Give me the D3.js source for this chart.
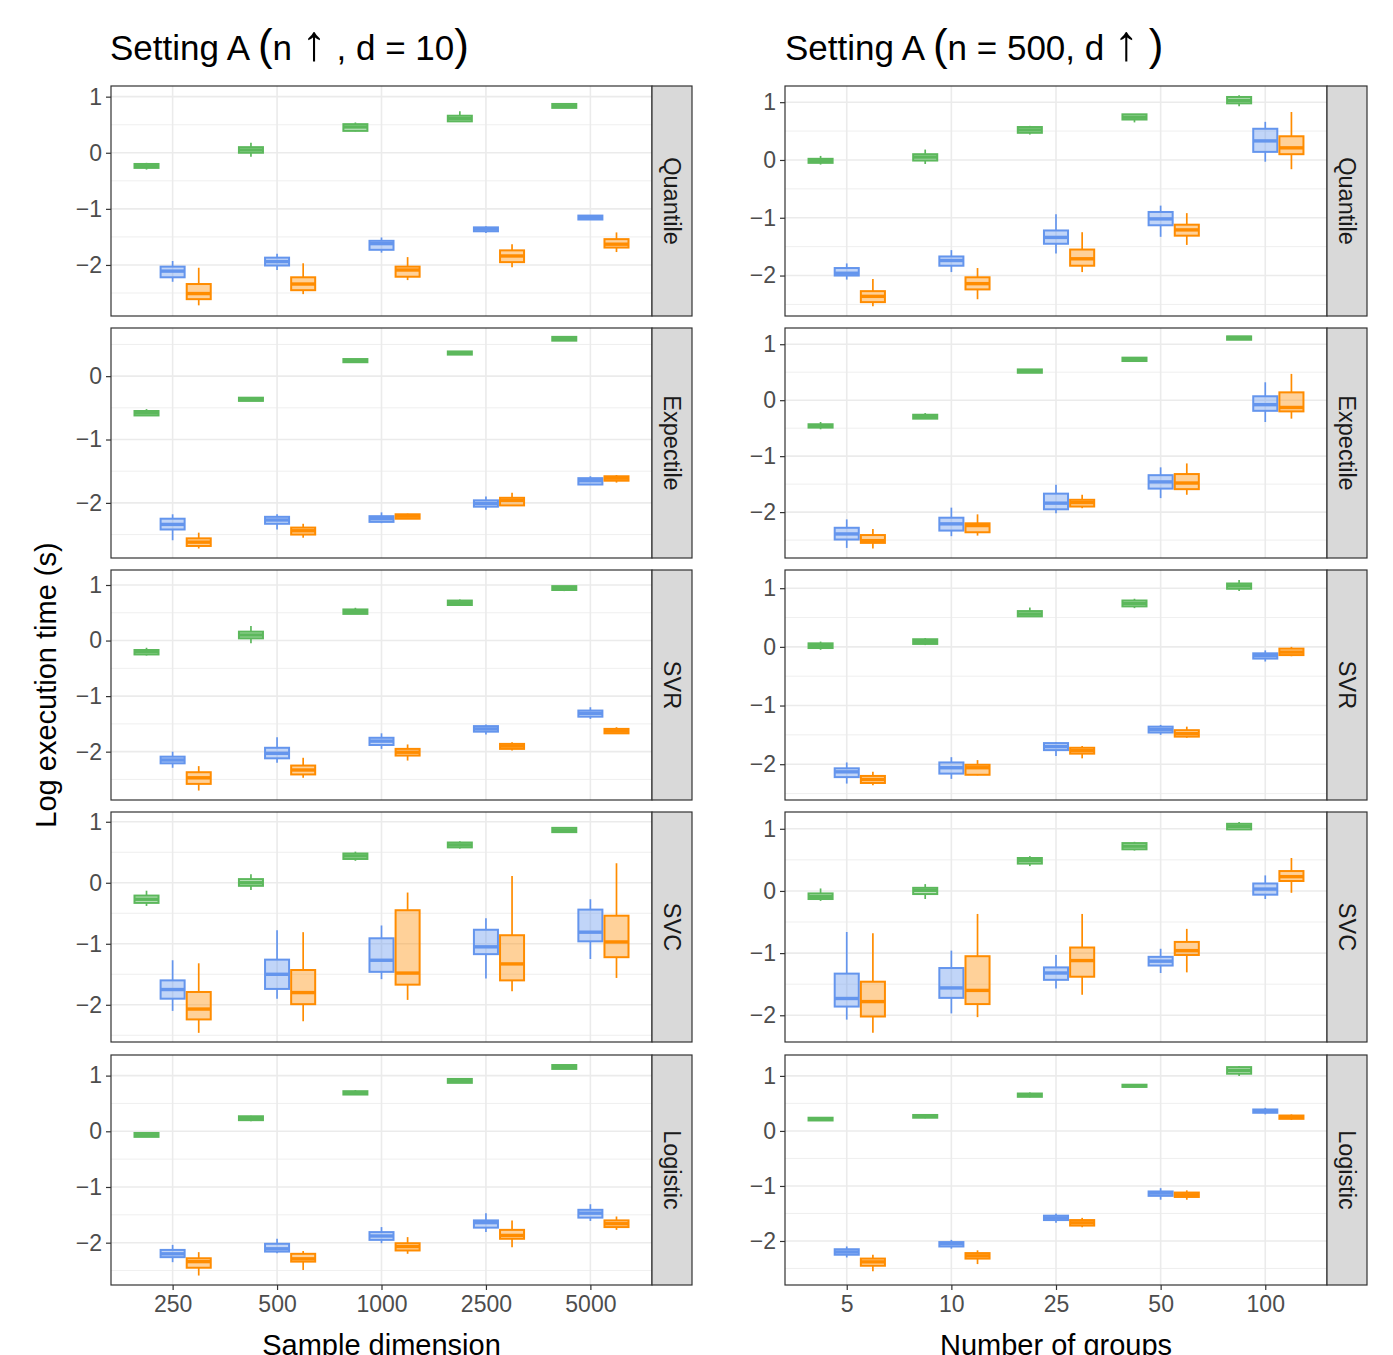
<!DOCTYPE html>
<html><head><meta charset="utf-8">
<script src="https://cdn.jsdelivr.net/npm/d3@7"></script>
<style>
body{margin:0;background:#fff}
svg{display:block}
text{font-family:"Liberation Sans",Arial,Helvetica,sans-serif}
</style>
</head><body>
<svg id="chart" width="1393" height="1355"></svg>
<script>
// ---------------- DATA ----------------
const catsN = ["250","500","1000","2500","5000"];
const catsG = ["5","10","25","50","100"];
const facetLabels = ["Quantile","Expectile","SVR","SVC","Logistic"];
const methods = ["m1","m2","m3"];
const yTicks = [-2,-1,0,1];
const yDomainsN = [[-2.91,1.19],[-2.87,0.76],[-2.87,1.27],[-2.61,1.16],[-2.76,1.37]];
const yDomainsG = [[-2.70,1.28],[-2.82,1.29],[-2.61,1.31],[-2.43,1.27],[-2.80,1.38]];
// each category: [m1, m2, m3], each stat = [lower, q1, median, q3, upper]
const nQuantile = [
  [[-0.30,-0.27,-0.24,-0.20,-0.18],[-2.30,-2.22,-2.11,-2.03,-1.93],[-2.72,-2.61,-2.51,-2.34,-2.05]],
  [[-0.07,0.00,0.05,0.10,0.18],[-2.09,-2.01,-1.94,-1.87,-1.80],[-2.52,-2.45,-2.34,-2.22,-1.97]],
  [[0.38,0.39,0.46,0.51,0.54],[-1.78,-1.73,-1.62,-1.57,-1.51],[-2.27,-2.21,-2.09,-2.03,-1.86]],
  [[0.56,0.56,0.61,0.66,0.74],[-1.43,-1.40,-1.36,-1.33,-1.31],[-2.04,-1.95,-1.84,-1.74,-1.63]],
  [[0.80,0.80,0.83,0.87,0.87],[-1.19,-1.19,-1.15,-1.12,-1.12],[-1.77,-1.69,-1.63,-1.54,-1.42]]
];
const nExpectile = [
  [[-0.62,-0.62,-0.58,-0.55,-0.52],[-2.59,-2.42,-2.34,-2.25,-2.18],[-2.72,-2.68,-2.62,-2.56,-2.47]],
  [[-0.39,-0.39,-0.37,-0.34,-0.34],[-2.42,-2.33,-2.27,-2.22,-2.18],[-2.55,-2.50,-2.44,-2.39,-2.33]],
  [[0.22,0.22,0.24,0.27,0.27],[-2.32,-2.30,-2.25,-2.21,-2.15],[-2.25,-2.25,-2.21,-2.18,-2.17]],
  [[0.34,0.34,0.37,0.39,0.39],[-2.11,-2.06,-2.01,-1.96,-1.90],[-2.04,-2.04,-1.96,-1.92,-1.84]],
  [[0.56,0.56,0.59,0.62,0.62],[-1.71,-1.71,-1.65,-1.61,-1.58],[-1.68,-1.65,-1.61,-1.58,-1.56]]
];
const nSVR = [
  [[-0.27,-0.25,-0.20,-0.17,-0.13],[-2.29,-2.21,-2.15,-2.09,-2.00],[-2.70,-2.58,-2.47,-2.37,-2.26]],
  [[-0.05,0.04,0.10,0.16,0.26],[-2.20,-2.12,-2.03,-1.93,-1.74],[-2.47,-2.41,-2.33,-2.25,-2.11]],
  [[0.48,0.48,0.52,0.56,0.59],[-1.95,-1.88,-1.81,-1.75,-1.67],[-2.16,-2.07,-2.01,-1.95,-1.87]],
  [[0.64,0.64,0.68,0.72,0.74],[-1.69,-1.64,-1.59,-1.54,-1.51],[-1.98,-1.95,-1.90,-1.86,-1.83]],
  [[0.89,0.91,0.95,0.98,0.98],[-1.41,-1.37,-1.31,-1.26,-1.20],[-1.68,-1.67,-1.63,-1.59,-1.56]]
];
const nSVC = [
  [[-0.38,-0.33,-0.27,-0.21,-0.13],[-2.10,-1.90,-1.75,-1.60,-1.27],[-2.46,-2.24,-2.07,-1.79,-1.32]],
  [[-0.12,-0.05,0.00,0.06,0.14],[-1.90,-1.74,-1.50,-1.26,-0.78],[-2.27,-1.99,-1.80,-1.43,-0.81]],
  [[0.36,0.39,0.44,0.48,0.51],[-1.58,-1.46,-1.27,-0.91,-0.70],[-1.92,-1.67,-1.48,-0.45,-0.16]],
  [[0.56,0.58,0.62,0.66,0.68],[-1.57,-1.17,-1.05,-0.77,-0.58],[-1.78,-1.60,-1.33,-0.86,0.11]],
  [[0.83,0.83,0.86,0.90,0.91],[-1.25,-0.96,-0.81,-0.44,-0.27],[-1.56,-1.22,-0.97,-0.54,0.32]]
];
const nLogistic = [
  [[-0.10,-0.10,-0.06,-0.03,-0.03],[-2.35,-2.26,-2.20,-2.13,-2.04],[-2.59,-2.45,-2.34,-2.28,-2.17]],
  [[0.18,0.20,0.23,0.27,0.28],[-2.19,-2.16,-2.11,-2.02,-1.93],[-2.49,-2.34,-2.29,-2.20,-2.15]],
  [[0.66,0.66,0.69,0.72,0.74],[-2.01,-1.95,-1.88,-1.81,-1.72],[-2.20,-2.14,-2.07,-2.01,-1.90]],
  [[0.87,0.87,0.91,0.94,0.94],[-1.81,-1.73,-1.64,-1.60,-1.47],[-2.08,-1.93,-1.87,-1.77,-1.60]],
  [[1.12,1.12,1.16,1.19,1.19],[-1.61,-1.55,-1.47,-1.41,-1.31],[-1.77,-1.72,-1.66,-1.60,-1.53]]
];
const gQuantile = [
  [[-0.08,-0.05,-0.01,0.02,0.07],[-2.07,-2.00,-1.96,-1.87,-1.79],[-2.53,-2.46,-2.36,-2.27,-2.06]],
  [[-0.07,-0.01,0.05,0.10,0.18],[-1.94,-1.83,-1.74,-1.67,-1.56],[-2.41,-2.24,-2.14,-2.03,-1.87]],
  [[0.44,0.47,0.52,0.57,0.59],[-1.62,-1.45,-1.34,-1.22,-0.94],[-1.94,-1.83,-1.71,-1.55,-1.25]],
  [[0.65,0.70,0.74,0.79,0.79],[-1.33,-1.13,-1.02,-0.90,-0.79],[-1.47,-1.31,-1.21,-1.12,-0.92]],
  [[0.93,0.98,1.03,1.09,1.12],[-0.03,0.14,0.33,0.54,0.66],[-0.16,0.10,0.21,0.41,0.83]]
];
const gExpectile = [
  [[-0.52,-0.49,-0.46,-0.43,-0.39],[-2.64,-2.49,-2.39,-2.28,-2.13],[-2.65,-2.55,-2.51,-2.41,-2.30]],
  [[-0.33,-0.33,-0.29,-0.26,-0.23],[-2.43,-2.33,-2.21,-2.10,-1.92],[-2.42,-2.36,-2.24,-2.20,-2.04]],
  [[0.49,0.49,0.52,0.55,0.55],[-2.02,-1.95,-1.84,-1.67,-1.51],[-1.93,-1.90,-1.83,-1.78,-1.69]],
  [[0.70,0.70,0.73,0.76,0.76],[-1.75,-1.58,-1.46,-1.34,-1.20],[-1.69,-1.59,-1.48,-1.32,-1.13]],
  [[1.08,1.08,1.12,1.14,1.14],[-0.39,-0.19,-0.08,0.07,0.32],[-0.33,-0.20,-0.13,0.14,0.47]]
];
const gSVR = [
  [[-0.05,-0.02,0.02,0.06,0.09],[-2.33,-2.22,-2.13,-2.07,-1.97],[-2.36,-2.32,-2.26,-2.20,-2.13]],
  [[0.03,0.05,0.09,0.13,0.15],[-2.25,-2.16,-2.06,-1.97,-1.88],[-2.19,-2.18,-2.06,-2.01,-1.93]],
  [[0.52,0.52,0.56,0.61,0.67],[-1.86,-1.76,-1.70,-1.64,-1.62],[-1.90,-1.82,-1.77,-1.72,-1.69]],
  [[0.66,0.69,0.74,0.79,0.82],[-1.50,-1.46,-1.41,-1.36,-1.33],[-1.55,-1.53,-1.48,-1.42,-1.36]],
  [[0.95,0.99,1.04,1.08,1.14],[-0.25,-0.20,-0.15,-0.11,-0.06],[-0.16,-0.14,-0.09,-0.03,0.00]]
];
const gSVC = [
  [[-0.16,-0.13,-0.09,-0.04,0.04],[-2.07,-1.86,-1.73,-1.33,-0.66],[-2.28,-2.02,-1.78,-1.46,-0.68]],
  [[-0.13,-0.05,0.01,0.05,0.11],[-1.97,-1.72,-1.56,-1.24,-0.96],[-2.03,-1.82,-1.60,-1.05,-0.37]],
  [[0.40,0.44,0.49,0.53,0.56],[-1.57,-1.43,-1.32,-1.23,-1.03],[-1.67,-1.38,-1.12,-0.91,-0.37]],
  [[0.65,0.67,0.72,0.77,0.79],[-1.32,-1.20,-1.13,-1.06,-0.93],[-1.31,-1.03,-0.96,-0.82,-0.61]],
  [[0.99,0.99,1.04,1.08,1.11],[-0.13,-0.06,0.03,0.12,0.25],[-0.03,0.16,0.23,0.32,0.53]]
];
const gLogistic = [
  [[0.18,0.19,0.22,0.24,0.25],[-2.30,-2.25,-2.20,-2.15,-2.10],[-2.55,-2.45,-2.38,-2.32,-2.25]],
  [[0.23,0.24,0.27,0.29,0.30],[-2.14,-2.10,-2.05,-2.02,-1.98],[-2.42,-2.32,-2.27,-2.22,-2.17]],
  [[0.61,0.62,0.65,0.68,0.70],[-1.67,-1.62,-1.58,-1.54,-1.50],[-1.75,-1.72,-1.67,-1.62,-1.58]],
  [[0.79,0.80,0.82,0.84,0.85],[-1.25,-1.18,-1.13,-1.10,-1.04],[-1.25,-1.20,-1.16,-1.12,-1.08]],
  [[1.00,1.04,1.10,1.16,1.18],[0.30,0.33,0.36,0.39,0.42],[0.20,0.22,0.25,0.28,0.30]]
];

// ---------------- STYLE / LAYOUT ----------------
const colors = {m1:"#5CB85C", m2:"#6495ED", m3:"#FF8C00"};
const colX = [[111,652],[785,1327]];
const rowY = [[86,316],[328,558],[570,800],[812,1042],[1055,1285]];
const stripW = 40;
const columns = [
  {cats: catsN, domains: yDomainsN, panels: [nQuantile,nExpectile,nSVR,nSVC,nLogistic], xTitle: "Sample dimension"},
  {cats: catsG, domains: yDomainsG, panels: [gQuantile,gExpectile,gSVR,gSVC,gLogistic], xTitle: "Number of groups"}
];
const fmt = d => d < 0 ? "\u2212" + Math.abs(d) : String(d);

const svg = d3.select("#chart");
svg.append("rect").attr("width",1393).attr("height",1355).attr("fill","#fff");

columns.forEach((col, c) => {
  const [x0, x1] = colX[c];
  const x = d3.scalePoint().domain(col.cats).range([x0, x1]).padding(0.59);
  const dodge = x.step() * 0.75 / 3;
  const bw = dodge * 0.92;

  col.panels.forEach((pdata, r) => {
    const [y0, y1] = rowY[r];
    const dom = col.domains[r];
    const y = d3.scaleLinear().domain(dom).range([y1, y0]);
    const g = svg.append("g");

    g.append("rect").attr("x",x0).attr("y",y0).attr("width",x1-x0).attr("height",y1-y0).attr("fill","#fff");
    const minor = d3.range(Math.ceil(dom[0]*2)/2, dom[1], 0.5).filter(v => Math.abs(v - Math.round(v)) > 0.1);
    g.selectAll(".minor").data(minor).join("line")
      .attr("x1",x0).attr("x2",x1).attr("y1",d=>y(d)).attr("y2",d=>y(d))
      .attr("stroke","#ebebeb").attr("stroke-width",0.8);
    const major = yTicks.filter(v => v >= dom[0] && v <= dom[1]);
    g.selectAll(".major").data(major).join("line")
      .attr("x1",x0).attr("x2",x1).attr("y1",d=>y(d)).attr("y2",d=>y(d))
      .attr("stroke","#ebebeb").attr("stroke-width",1.6);
    g.selectAll(".vmajor").data(col.cats).join("line")
      .attr("x1",d=>x(d)).attr("x2",d=>x(d)).attr("y1",y0).attr("y2",y1)
      .attr("stroke","#ebebeb").attr("stroke-width",1.6);

    const recs = [];
    pdata.forEach((catBoxes, ci) => catBoxes.forEach((s, mi) => {
      recs.push({cat: col.cats[ci], m: methods[mi], mi, lo:s[0], q1:s[1], med:s[2], q3:s[3], hi:s[4]});
    }));
    const bx = d => x(d.cat) + (d.mi - 1) * dodge;
    const bg = g.selectAll(".box").data(recs).join("g");
    bg.append("line").attr("x1",bx).attr("x2",bx).attr("y1",d=>y(d.hi)).attr("y2",d=>y(d.q3))
      .attr("stroke",d=>colors[d.m]).attr("stroke-width",1.7);
    bg.append("line").attr("x1",bx).attr("x2",bx).attr("y1",d=>y(d.q1)).attr("y2",d=>y(d.lo))
      .attr("stroke",d=>colors[d.m]).attr("stroke-width",1.7);
    bg.append("rect").attr("x",d=>bx(d)-bw/2).attr("y",d=>y(d.q3)).attr("width",bw)
      .attr("height",d=>Math.max(0.5, y(d.q1)-y(d.q3)))
      .attr("fill",d=>colors[d.m]).attr("fill-opacity",0.4)
      .attr("stroke",d=>colors[d.m]).attr("stroke-width",2);
    bg.append("line").attr("x1",d=>bx(d)-bw/2).attr("x2",d=>bx(d)+bw/2)
      .attr("y1",d=>y(d.med)).attr("y2",d=>y(d.med))
      .attr("stroke",d=>colors[d.m]).attr("stroke-width",3.4);

    g.append("rect").attr("x",x0).attr("y",y0).attr("width",x1-x0).attr("height",y1-y0)
      .attr("fill","none").attr("stroke","#333333").attr("stroke-width",1.2);
    g.append("rect").attr("x",x1).attr("y",y0).attr("width",stripW).attr("height",y1-y0)
      .attr("fill","#d9d9d9").attr("stroke","#333333").attr("stroke-width",1.2);
    g.append("text").attr("transform",`translate(${x1+stripW/2},${(y0+y1)/2}) rotate(90)`)
      .attr("text-anchor","middle").attr("dy","0.35em")
      .attr("font-size",23.5).attr("fill","#1a1a1a").text(facetLabels[r]);

    const ya = g.append("g").attr("transform",`translate(${x0},0)`)
      .call(d3.axisLeft(y).tickValues(major).tickFormat(fmt).tickSize(5).tickPadding(4));
    ya.select(".domain").remove();
    ya.selectAll(".tick line").attr("stroke","#333333").attr("stroke-width",1.2);
    ya.selectAll(".tick text").attr("fill","#4d4d4d").attr("font-size",23)
      .style("font-family",'"Liberation Sans",Arial,sans-serif');

    if (r === rowY.length - 1) {
      const xa = g.append("g").attr("transform",`translate(0,${y1})`)
        .call(d3.axisBottom(x).tickSize(5).tickPadding(6));
      xa.select(".domain").remove();
      xa.selectAll(".tick line").attr("stroke","#333333").attr("stroke-width",1.2);
      xa.selectAll(".tick text").attr("fill","#4d4d4d").attr("font-size",23)
        .style("font-family",'"Liberation Sans",Arial,sans-serif');
      svg.append("text").attr("x",(x0+x1)/2).attr("y",1355).attr("text-anchor","middle")
        .attr("font-size",29).attr("fill","#000").text(col.xTitle);
    }
  });
});

svg.append("text").attr("transform","translate(56,685) rotate(-90)").attr("text-anchor","middle")
  .attr("font-size",29).attr("fill","#000").text("Log execution time (s)");

// titles (plotmath-like: tall brackets, long up arrow)
function title(xp, parts) {
  const t = svg.append("text").attr("x",xp).attr("y",60).attr("font-size",35).attr("fill","#000");
  parts.forEach(p => {
    const s = t.append("tspan").text(p.t);
    if (p.fs) s.attr("font-size",p.fs);
  });
}
title(110, [{t:"Setting A "},{t:"(",fs:44},{t:"n "},{t:"\u2191",fs:50},{t:" , d = 10"},{t:")",fs:44}]);
title(785, [{t:"Setting A "},{t:"(",fs:44},{t:"n = 500, d "},{t:"\u2191",fs:50},{t:" "},{t:")",fs:44}]);
</script>
</body></html>
